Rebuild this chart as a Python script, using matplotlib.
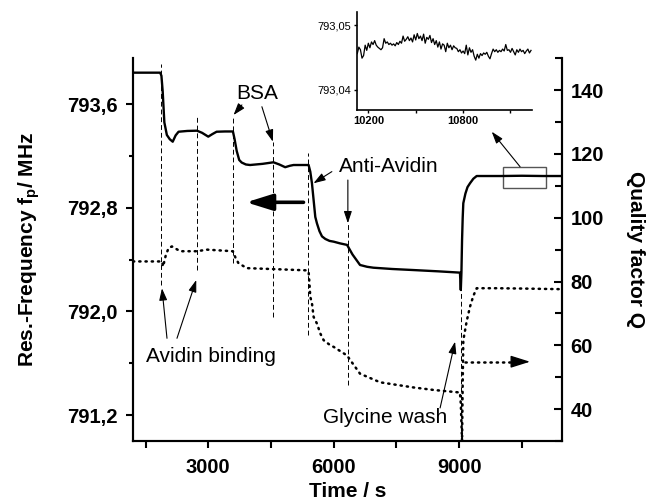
"""
Recreates the QCM/TSM response plot: resonance frequency (solid) and
quality factor (dotted) versus time, with the event markers and an
inset zoom on the final plateau.
"""

import numpy as np
import matplotlib
matplotlib.use("Agg")
import matplotlib.pyplot as plt
from matplotlib.ticker import FuncFormatter, MultipleLocator, FixedLocator
from matplotlib.patches import Rectangle

plt.rcParams["font.family"] = ["Liberation Sans", "DejaVu Sans"]

# -- Data -----------------------------------------------------------------
# resonance frequency (left axis, MHz)
freq_t = [1200, 1850, 1880, 1910, 1950, 2010, 2080, 2150, 2220, 2290, 2500,
          2730, 2850, 3000, 3100, 3200, 3400, 3590, 3630, 3680, 3740, 3800,
          3900, 4000, 4300, 4560, 4700, 4840, 4950, 5040, 5250, 5400, 5440,
          5480, 5520, 5560, 5600, 5660, 5720, 5800, 5900, 6000, 6150, 6320,
          6450, 6630, 6800, 6950, 7400, 7900, 8500, 9020, 9040, 9055, 9070,
          9085, 9100, 9150, 9200, 9260, 9340, 9420, 9600, 10000, 10500,
          11000, 11460]
freq_f = [793.844, 793.844, 793.82, 793.70, 793.46, 793.363, 793.33, 793.311,
          793.36, 793.388, 793.394, 793.396, 793.38, 793.350, 793.37, 793.388,
          793.390, 793.390, 793.33, 793.24, 793.17, 793.150, 793.135, 793.131,
          793.140, 793.152, 793.135, 793.114, 793.125, 793.131, 793.131,
          793.131, 793.08, 792.99, 792.86, 792.73, 792.68, 792.62, 792.58,
          792.56, 792.545, 792.539, 792.526, 792.514, 792.44, 792.359,
          792.345, 792.338, 792.328, 792.320, 792.310, 792.300, 792.166,
          792.30, 792.55, 792.72, 792.836, 792.91, 792.96, 792.99, 793.025,
          793.046, 793.046, 793.046, 793.048, 793.046, 793.046]

# quality factor (right axis)
q_t = [1200, 1890, 1920, 1980, 2050, 2130, 2330, 2730, 2970, 3590, 3650, 3720,
       3920, 4560, 5360, 5400, 5420, 5440, 5480, 5520, 5600, 5680, 5760, 5920,
       6000, 6320, 6400, 6630, 7110, 7900, 8390, 9020, 9040, 9060, 9070, 9085,
       9100, 9180, 9260, 9340, 9420, 9900, 10500, 11460]
q_val = [86.3, 86.3, 84.7, 88.0, 90.5, 91.0, 89.5, 89.5, 90.0, 89.5, 87.5, 85.8,
         84.2, 83.9, 83.5, 83.1, 79.5, 75.2, 73.2, 68.9, 66.8, 63.7, 61.6, 60.0,
         59.5, 56.8, 55.3, 51.1, 48.4, 46.8, 46.0, 45.2, 41.7, 34.0, 30.0, 48.0,
         61.6, 67.5, 72.1, 75.5, 77.9, 77.9, 77.8, 77.6]

# inset: final plateau, frequency offset above 793.04 MHz in units of 1e-3 MHz
inset_v = [5.6, 6.6, 6.2, 4.9, 5.3, 6.9, 6.1, 7.2, 6.5, 7.4, 7.0, 7.6, 6.9, 6.6,
           6.4, 6.2, 6.5, 7.9, 7.2, 7.4, 7.0, 7.2, 6.9, 7.1, 6.8, 7.3, 7.0, 7.5,
           7.2, 8.3, 7.5, 7.8, 8.2, 7.6, 8.0, 7.4, 8.5, 7.7, 8.7, 7.9, 8.3, 7.6,
           8.6, 7.2, 8.1, 7.8, 8.4, 7.3, 7.9, 7.0, 7.6, 6.6, 7.4, 6.3, 7.1, 6.9,
           5.9, 7.2, 6.5, 6.9, 6.2, 6.8, 6.5, 6.4, 5.9, 6.2, 5.7, 6.0, 5.6, 6.9,
           5.4, 6.5, 5.8, 6.2, 5.2, 4.6, 5.5, 4.9, 5.6, 5.3, 5.7, 5.5, 5.8, 5.2,
           4.8, 5.6, 6.3, 5.9, 6.2, 5.8, 6.1, 5.9, 6.3, 6.0, 7.0, 6.1, 6.2, 5.8,
           6.4, 5.9, 5.4, 6.2, 5.8, 6.3, 5.9, 6.1, 5.6, 6.0, 6.3, 5.7, 6.1]
inset_t = np.linspace(10130, 11230, len(inset_v))
inset_f = 793.04 + np.array(inset_v) * 1e-3

# event markers (vertical dashed lines): time, upper and lower frequency
event_t = [1870, 2737, 3590, 4553, 5397, 6339, 9035]
event_top = [793.911, 793.504, 793.492, 793.309, 793.222, 792.681, 792.243]
event_bot = [792.205, 792.320, 792.372, 791.960, 791.819, 791.432, 791.2]

dotted = (0, (0.5, 2.0))

# -- Figure ---------------------------------------------------------------
fig = plt.figure(figsize=(6.61, 5.03), dpi=100)
ax = fig.add_axes([0.2012, 0.1233, 0.649, 0.7608])
ax2 = ax.twinx()

ax.plot(freq_t, freq_f, color="black", lw=1.7, solid_joinstyle="round")
ax2.plot(q_t, q_val, color="black", lw=1.8, linestyle=dotted,
         dash_capstyle="round")
for t, top, bot in zip(event_t, event_top, event_bot):
    ax.plot([t, t], [bot, top], color="black", lw=0.7, linestyle=(0, (5, 3)))

ax.set_xlim(1200, 11460)
ax.set_ylim(791.0, 793.955)
ax2.set_ylim(30, 150)

ax.xaxis.set_major_locator(FixedLocator([3000, 6000, 9000]))
ax.xaxis.set_minor_locator(FixedLocator([1500, 4500, 7500, 10500]))
ax.yaxis.set_major_locator(FixedLocator([791.2, 792.0, 792.8, 793.6]))
ax.yaxis.set_minor_locator(FixedLocator([791.6, 792.4, 793.2]))
ax.yaxis.set_major_formatter(
    FuncFormatter(lambda v, pos: f"{v:.1f}".replace(".", ",")))
ax2.yaxis.set_major_locator(MultipleLocator(20))
ax2.yaxis.set_minor_locator(MultipleLocator(10))

for a in (ax, ax2):
    a.spines["top"].set_visible(False)
    for s in ("left", "right", "bottom"):
        a.spines[s].set_linewidth(1.5)

ax.tick_params(axis="x", which="both", direction="out", length=5, width=1.5,
               pad=7, labelsize=14.5)
ax.tick_params(axis="y", which="major", direction="out", length=5, width=1.5,
               pad=6, labelsize=14.5)
ax.tick_params(axis="y", which="minor", direction="out", length=3, width=1.5)
ax2.tick_params(axis="y", which="major", direction="in", length=6, width=1.5,
                pad=6, labelsize=14.5)
ax2.tick_params(axis="y", which="minor", direction="in", length=5, width=1.5)
for lab in ax.get_xticklabels() + ax.get_yticklabels() + ax2.get_yticklabels():
    lab.set_fontweight("bold")

ax.set_xlabel("Time / s", fontsize=15, fontweight="bold", labelpad=4)
ax.set_ylabel(r"Res.-Frequency f$_\mathregular{p}$/ MHz", fontsize=15,
              fontweight="bold", labelpad=18)
ax2.set_ylabel("Quality factor Q", fontsize=15, fontweight="bold",
               rotation=-90, labelpad=30)

# -- Annotations ----------------------------------------------------------
thin = dict(arrowstyle="-|>,head_length=0.6,head_width=0.2", lw=0.8,
            color="black", mutation_scale=12, shrinkA=0, shrinkB=0)
txt = dict(fontsize=15, ha="center", va="center")

ax.text(4171, 793.687, "BSA", **txt)
ax.annotate("", xy=(3605, 793.517), xytext=(3805, 793.595), arrowprops=thin)
ax.annotate("", xy=(4546, 793.311), xytext=(4283, 793.581), arrowprops=thin)

ax.text(7326, 793.116, "Anti-Avidin", **txt)
ax.annotate("", xy=(5517, 792.990), xytext=(5956, 793.080), arrowprops=thin)
ax.annotate("", xy=(6339, 792.681), xytext=(6339, 793.015), arrowprops=thin)

ax.text(3072, 791.649, "Avidin binding", **txt)
ax.annotate("", xy=(1893, 792.179), xytext=(2013, 791.793), arrowprops=thin)
ax.annotate("", xy=(2713, 792.243), xytext=(2252, 791.793), arrowprops=thin)

ax.text(7230, 791.178, "Glycine wash", **txt)
ax.annotate("", xy=(8903, 791.767), xytext=(8545, 791.255), arrowprops=thin)

# axis-indicator arrows
ax.annotate("", xy=(3908, 792.843), xytext=(5278, 792.843),
            arrowprops=dict(arrowstyle="-|>,head_length=0.8,head_width=0.25",
                            color="black", mutation_scale=20, lw=2.6,
                            shrinkA=0, shrinkB=0))
ax.plot([9142, 10420], [791.612, 791.612], color="black", lw=1.8,
        linestyle=dotted, dash_capstyle="round")
ax.annotate("", xy=(10696, 791.612), xytext=(10450, 791.612),
            arrowprops=dict(arrowstyle="-|>,head_length=0.7,head_width=0.22",
                            color="black", mutation_scale=17, lw=1.0,
                            shrinkA=0, shrinkB=0))

# zoom box and pointer to inset
ax.add_patch(Rectangle((10058, 792.956), 1020, 0.162, fill=False,
                       edgecolor="#555555", lw=1.0))
ax.annotate("", xy=(9780, 793.388), xytext=(10457, 793.118), arrowprops=thin)

# -- Inset ----------------------------------------------------------------
axi = fig.add_axes([0.5405, 0.7813, 0.2643, 0.1954])
axi.patch.set_alpha(0)
axi.plot(inset_t, inset_f, color="black", lw=0.9)
axi.set_xlim(10130, 11236)
axi.set_ylim(793.03692, 793.05205)
axi.spines["top"].set_visible(False)
axi.spines["right"].set_visible(False)
axi.spines["left"].set_linewidth(1.2)
axi.spines["bottom"].set_linewidth(1.2)
axi.xaxis.set_major_locator(FixedLocator([10200, 10800]))
axi.xaxis.set_minor_locator(FixedLocator([10500, 11100]))
axi.yaxis.set_major_locator(FixedLocator([793.04, 793.05]))
axi.yaxis.set_major_formatter(
    FuncFormatter(lambda v, pos: f"{v:.2f}".replace(".", ",")))
axi.tick_params(which="both", direction="out", length=2.5, width=1.0,
                labelsize=8, pad=2)
for lab in axi.get_xticklabels():
    lab.set_fontweight("bold")

fig.savefig("out.png", dpi=100)
